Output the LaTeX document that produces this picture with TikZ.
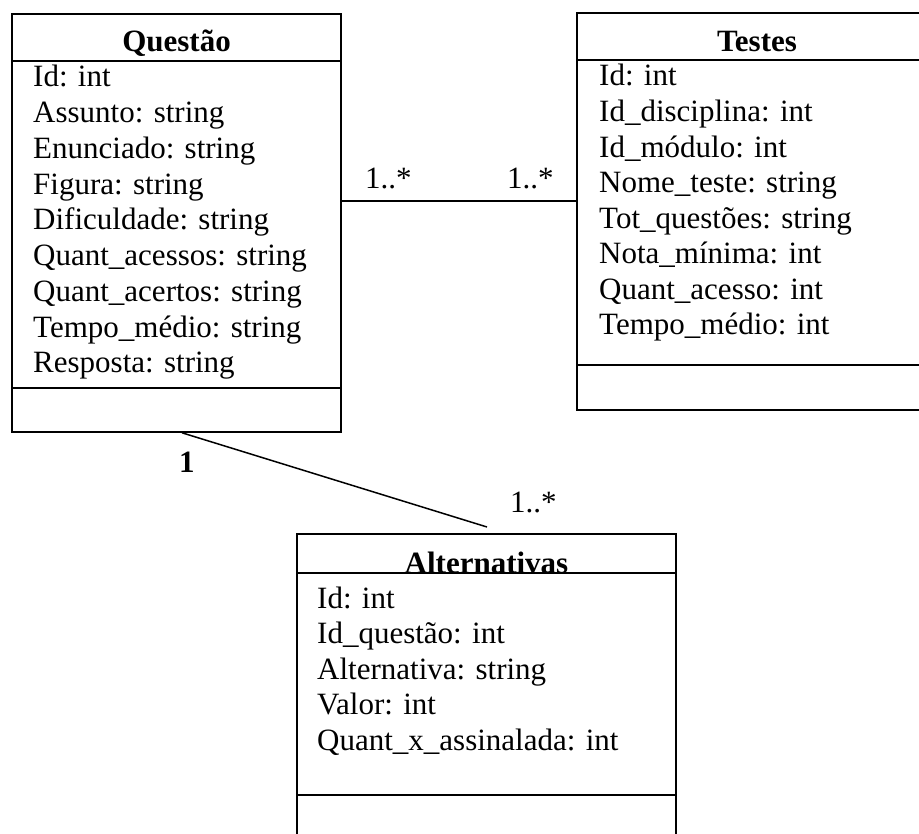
\documentclass[tikz,border=0pt]{standalone}
\usepackage{fontspec}
\setmainfont{Liberation Serif}
\begin{document}
\begin{tikzpicture}[x=1pt,y=-1pt,
  classbox/.style={draw, line width=1.6pt, rectangle, inner sep=0pt},
  rule/.style={line width=1.6pt},
  classtitle/.style={font=\fontsize{31}{35}\selectfont\bfseries, anchor=base, inner sep=0pt},
  attr/.style={font=\fontsize{31}{35}\selectfont, anchor=base west, inner sep=0pt},
  mult/.style={font=\fontsize{31}{35}\selectfont, anchor=base west, inner sep=0pt},
  assoc/.style={line width=1.5pt}]
\clip (0,0) rectangle (919,834);
\useasboundingbox (0,0) rectangle (919,834);
\fill[white] (0,0) rectangle (919,834);

% class boxes
\node[classbox, minimum width=329pt, minimum height=418pt] (q) at (176.5,223) {};
\node[classbox, minimum width=360pt, minimum height=397pt] (t) at (757,211.5) {};
\node[classbox, minimum width=379pt, minimum height=326pt] (a) at (486.5,697) {};

% compartment rules
\draw[rule] (q.west |- 0,61) -- (q.east |- 0,61);
\draw[rule] (q.west |- 0,388) -- (q.east |- 0,388);
\draw[rule] (t.west |- 0,60) -- (t.east |- 0,60);
\draw[rule] (t.west |- 0,365) -- (t.east |- 0,365);
\draw[rule] (a.west |- 0,573) -- (a.east |- 0,573);
\draw[rule] (a.west |- 0,795) -- (a.east |- 0,795);

% titles
\node[classtitle] (qt) at (176.5,52) {Questão};
\node[classtitle] (tt) at (757,52) {Testes};
\node[classtitle] (at) at (486.5,573) {Alternativas};

% attributes
\foreach \txt [count=\i] in {Id: int, Assunto: string, Enunciado: string, Figura: string,
  Dificuldade: string, Quant\_acessos: string, Quant\_acertos: string,
  Tempo\_médio: string, Resposta: string}
  \node[attr] (q\i) at (33,51.25+35.75*\i) {\txt};

\foreach \txt [count=\i] in {Id: int, Id\_disciplina: int, Id\_módulo: int,
  Nome\_teste: string, Tot\_questões: string, Nota\_mínima: int,
  Quant\_acesso: int, Tempo\_médio: int}
  \node[attr] (t\i) at (599,50.43+35.57*\i) {\txt};

\foreach \txt [count=\i] in {Id: int, Id\_questão: int, Alternativa: string,
  Valor: int, Quant\_x\_assinalada: int}
  \node[attr] (a\i) at (317,572.5+35.5*\i) {\txt};

% associations
\draw[assoc] (q.east |- 0,201) -- (t.west |- 0,201);
\coordinate (aend) at (487,527);
\draw[assoc] ([xshift=5.5pt]q.south) -- (aend);

% multiplicities
\node[mult] (m1) at (365,189) {1..*};
\node[mult] (m2) at (507,189) {1..*};
\node[mult] (m3) at (179,472) {\textbf{1}};
\node[mult] (m4) at (510,512) {1..*};
\end{tikzpicture}
\end{document}
